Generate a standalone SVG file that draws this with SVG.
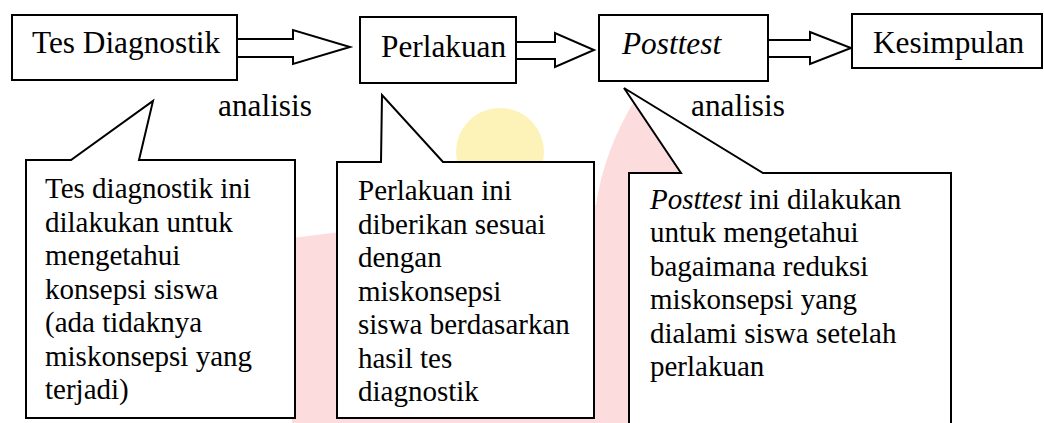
<svg xmlns="http://www.w3.org/2000/svg" width="1044" height="423" viewBox="0 0 1044 423">
  <style>
    .box { fill: #ffffff; stroke: #000000; stroke-width: 2; }
    .arrow { fill: #ffffff; stroke: #000000; stroke-width: 2; stroke-linejoin: miter; }
    text { font-family: 'Liberation Serif', 'Times New Roman', serif; fill: #000000; }
    .lbl { font-size: 31.3px; }
    .txt { font-size: 29px; }
    .it { font-style: italic; }
  </style>
  <rect width="1044" height="423" fill="#ffffff"/>
  <g id="watermark">
    <circle cx="500" cy="152" r="44" fill="#fdf3b8"/>
    <path d="M 636 98 Q 604 150 596 205 Q 420 222 292 238 L 292 423 L 705 423 L 705 185 Q 675 130 636 98 Z" fill="#fcdcdc"/>
  </g>

  <g id="connectors">
    <path class="arrow" d="M 237 39 L 293 39 L 293 30 L 350 47 L 293 64 L 293 57 L 237 57"/>
    <path class="arrow" d="M 516 42 L 555 42 L 555 33 L 594 50 L 555 67 L 555 59 L 516 59"/>
    <path class="arrow" d="M 768 40 L 810 40 L 810 32 L 851 48 L 810 64 L 810 57 L 768 57"/>
  </g>

  <g id="node-tes-diagnostik">
    <rect class="box" x="12" y="15" width="225" height="65"/>
    <text class="lbl" x="32" y="53">Tes Diagnostik</text>
  </g>
  <g id="node-perlakuan">
    <rect class="box" x="360" y="17" width="156" height="66"/>
    <text class="lbl" x="381" y="57">Perlakuan</text>
  </g>
  <g id="node-posttest">
    <rect class="box" x="599" y="15" width="169" height="66"/>
    <text class="lbl it" x="622" y="54">Posttest</text>
  </g>
  <g id="node-kesimpulan">
    <rect class="box" x="852" y="14" width="190" height="54"/>
    <text class="lbl" x="873" y="53">Kesimpulan</text>
  </g>

  <g id="label-analisis-1">
    <text class="lbl" x="218" y="116">analisis</text>
  </g>
  <g id="label-analisis-2">
    <text class="lbl" x="691" y="116">analisis</text>
  </g>

  <g id="callout-tes-diagnostik">
    <path class="box" d="M 26 160 L 71 160 L 153 101 L 139 160 L 295 160 L 295 418 L 26 418 Z"/>
    <text class="txt" x="45" y="198">Tes diagnostik ini</text>
    <text class="txt" x="45" y="231.5">dilakukan untuk</text>
    <text class="txt" x="45" y="265">mengetahui</text>
    <text class="txt" x="45" y="298.5">konsepsi siswa</text>
    <text class="txt" x="45" y="332">(ada tidaknya</text>
    <text class="txt" x="45" y="365.5">miskonsepsi yang</text>
    <text class="txt" x="45" y="399">terjadi)</text>
  </g>

  <g id="callout-perlakuan">
    <path class="box" d="M 337 162 L 381 162 L 382 95 L 443 162 L 594 162 L 594 418 L 337 418 Z"/>
    <text class="txt" x="358" y="200">Perlakuan ini</text>
    <text class="txt" x="358" y="233.5">diberikan sesuai</text>
    <text class="txt" x="358" y="267">dengan</text>
    <text class="txt" x="358" y="300.5">miskonsepsi</text>
    <text class="txt" x="358" y="334">siswa berdasarkan</text>
    <text class="txt" x="358" y="367.5">hasil tes</text>
    <text class="txt" x="358" y="401">diagnostik</text>
  </g>

  <g id="callout-posttest">
    <path class="box" d="M 629 173 L 681 173 L 624 88 L 763 173 L 951 173 L 951 430 L 629 430 Z"/>
    <text class="txt" x="650" y="208.5"><tspan class="it">Posttest</tspan> ini dilakukan</text>
    <text class="txt" x="650" y="242">untuk mengetahui</text>
    <text class="txt" x="650" y="275.5">bagaimana reduksi</text>
    <text class="txt" x="650" y="309">miskonsepsi yang</text>
    <text class="txt" x="650" y="342.5">dialami siswa setelah</text>
    <text class="txt" x="650" y="376">perlakuan</text>
  </g>
</svg>
